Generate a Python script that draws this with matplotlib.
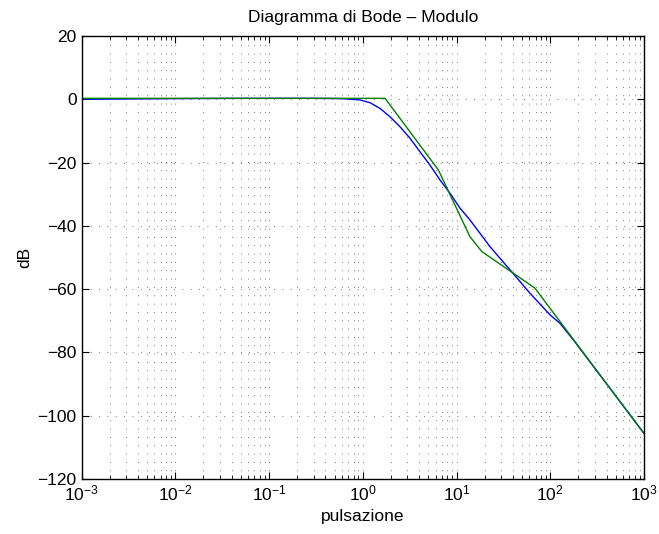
import numpy as np
import matplotlib.pyplot as plt
from matplotlib.ticker import LogLocator, NullFormatter, FixedLocator

plt.rcParams['font.family'] = ['Liberation Sans', 'DejaVu Sans']

# modulo reale (blu)
w_real = [1e-3, 3e-3, 1e-2, 0.05, 0.3, 0.6, 0.935, 1.20, 1.53, 1.95, 2.50, 3.19,
          4.08, 5.21, 6.67, 8.53, 10.9, 13.9, 22.8, 37.2, 60.8, 99.3, 127.0,
          176.0, 1000.0]
db_real = [0.0, 0.1, 0.2, 0.3, 0.3, 0.2, -0.2, -1.1, -2.9, -5.5, -8.7, -12.3,
           -16.6, -20.8, -25.5, -29.7, -34.4, -38.1, -46.6, -53.9, -61.3, -68.1, -70.8,
           -76.0, -105.6]

# diagramma asintotico (verde)
w_asin = [1e-3, 1.73, 6.4, 13.9, 18.6, 68.7, 1000.0]
db_asin = [0.3, 0.3, -22.3, -43.4, -48.1, -59.7, -105.6]

fig = plt.figure(figsize=(6.59, 5.34), dpi=100)
ax = fig.add_axes([81.5 / 659, 1 - 479 / 534, (644 - 81.5) / 659, (479 - 36) / 534])

ax.semilogx(w_real, db_real, color='#0000ff', lw=1.0)
ax.semilogx(w_asin, db_asin, color='#008000', lw=1.0)

ax.set_xlim(1e-3, 1e3)
ax.set_ylim(-120, 20)
ax.xaxis.set_major_locator(LogLocator(base=10, numticks=10))
ax.xaxis.set_minor_locator(LogLocator(base=10, subs=np.arange(2, 10), numticks=20))
ax.xaxis.set_minor_formatter(NullFormatter())
ax.yaxis.set_major_locator(FixedLocator(np.arange(-120, 21, 20)))
ax.set_yticklabels([str(v).replace('-', '\u2212') for v in range(-120, 21, 20)])

dots = dict(color='black', lw=0.6, linestyle=(0, (1, 9)), alpha=0.7)
ax.grid(True, which='major', axis='both', **dots)
ax.grid(True, which='minor', axis='x', **dots)

ax.tick_params(which='both', direction='in', top=True, right=True, labelsize=12.5)
ax.tick_params(which='major', length=5)
ax.tick_params(which='minor', length=3)
for s in ax.spines.values():
    s.set_linewidth(1.0)

ax.set_title('Diagramma di Bode \u2013 Modulo', fontsize=12.5, pad=10)
ax.set_xlabel('pulsazione', fontsize=12.5)
ax.set_ylabel('dB', fontsize=12.5)

fig.savefig('out.png', dpi=100)
